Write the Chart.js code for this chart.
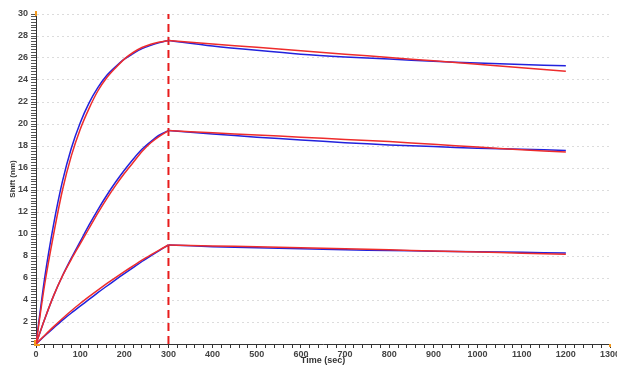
<!DOCTYPE html>
<html>
<head>
<meta charset="utf-8">
<script src="https://cdn.jsdelivr.net/npm/chart.js@4/dist/chart.umd.min.js"></script>
<style>
html, body { margin: 0; padding: 0; background: #fff; overflow: hidden; }
#wrap { width: 617px; height: 366px; overflow: hidden; }
</style>
</head>
<body>
<div id="wrap"><canvas id="chart" width="630" height="366"></canvas></div>
<script>
// time points (sec)
const assocTime = [0, 20, 40, 60, 80, 100, 120, 140, 160, 180, 200, 220, 240, 260, 280, 300]
const dissTime = [300, 400, 500, 600, 700, 800, 900, 1000, 1100, 1200]
const injectionEnd = 300

// measured (blue) and fitted (red) shift, nm
const topBlueAssoc = [0, 6.1, 10.9, 14.8, 17.8, 20.1, 21.9, 23.3, 24.4, 25.2, 25.9, 26.4, 26.85, 27.15, 27.4, 27.6]
const topRedAssoc = [0, 5.5, 10.0, 14.0, 17.1, 19.5, 21.4, 23.0, 24.2, 25.1, 25.9, 26.5, 26.95, 27.25, 27.45, 27.6]
const topBlueDiss = [27.6, 27.1, 26.7, 26.35, 26.1, 25.9, 25.7, 25.55, 25.4, 25.3]
const topRedDiss = [27.6, 27.28, 26.97, 26.66, 26.35, 26.05, 25.74, 25.44, 25.12, 24.8]

const midBlueAssoc = [0, 2.3, 4.4, 6.2, 7.8, 9.3, 10.8, 12.2, 13.5, 14.7, 15.8, 16.8, 17.7, 18.4, 19.0, 19.4]
const midRedAssoc = [0, 2.3, 4.4, 6.2, 7.7, 9.1, 10.5, 11.9, 13.2, 14.4, 15.5, 16.5, 17.5, 18.3, 18.9, 19.4]
const midBlueDiss = [19.4, 19.1, 18.8, 18.55, 18.3, 18.1, 17.95, 17.8, 17.7, 17.6]
const midRedDiss = [19.4, 19.2, 19.0, 18.8, 18.6, 18.4, 18.15, 17.9, 17.65, 17.45]

const lowBlueAssoc = [0, 0.75, 1.47, 2.17, 2.82, 3.44, 4.05, 4.67, 5.25, 5.83, 6.4, 6.95, 7.5, 8.02, 8.52, 9.0]
const lowRedAssoc = [0, 0.8, 1.58, 2.32, 3.02, 3.68, 4.3, 4.9, 5.48, 6.04, 6.58, 7.1, 7.62, 8.1, 8.56, 9.0]
const lowBlueDiss = [9.0, 8.85, 8.75, 8.65, 8.57, 8.5, 8.44, 8.38, 8.33, 8.28]
const lowRedDiss = [9.0, 8.92, 8.83, 8.74, 8.65, 8.56, 8.46, 8.36, 8.26, 8.15]

const blue = '#2222dd'
const red = '#ee2c2c'

function pts(times, vals){
	return times.map((t, i) => ({x: t, y: vals[i]}))
}

function curve(times, vals, color){
	return {
		data: pts(times, vals),
		borderColor: color,
		borderWidth: 1.5,
		pointRadius: 0,
		fill: false,
		tension: 0.3
	}
}

const datasets = [
	curve(assocTime, topRedAssoc, red),
	curve(dissTime, topRedDiss, red),
	curve(assocTime, midRedAssoc, red),
	curve(dissTime, midRedDiss, red),
	curve(assocTime, lowRedAssoc, red),
	curve(dissTime, lowRedDiss, red),
	curve(assocTime, topBlueAssoc, blue),
	curve(dissTime, topBlueDiss, blue),
	curve(assocTime, midBlueAssoc, blue),
	curve(dissTime, midBlueDiss, blue),
	curve(assocTime, lowBlueAssoc, blue),
	curve(dissTime, lowBlueDiss, blue),
	{
		data: [{x: injectionEnd, y: 0}, {x: injectionEnd, y: 30}],
		borderColor: '#e81c1c',
		borderWidth: 2,
		borderDash: [8, 5],
		pointRadius: 0,
		fill: false
	}
]

// little orange corner marks on the axes
const cornerMarks = {
	id: 'cornerMarks',
	afterDraw(chart){
		const ctx = chart.ctx
		const a = chart.chartArea
		ctx.save()
		ctx.strokeStyle = '#f39a1e'
		ctx.lineWidth = 2
		ctx.beginPath()
		ctx.moveTo(a.left - 1, a.bottom - 4)
		ctx.lineTo(a.left - 1, a.bottom + 1)
		ctx.lineTo(a.left + 4, a.bottom + 1)
		ctx.moveTo(a.left, a.top - 3)
		ctx.lineTo(a.left, a.top + 2)
		ctx.moveTo(a.right, a.bottom)
		ctx.lineTo(a.right, a.bottom + 3)
		ctx.stroke()
		ctx.restore()
	}
}

const tickFont = {family: 'Liberation Sans', size: 9, weight: 'bold'}

const config = {
	type: 'line',
	data: {datasets: datasets},
	options: {
		responsive: false,
		animation: false,
		layout: {padding: {left: 0, top: 14, right: 20, bottom: 0}},
		plugins: {
			legend: {display: false},
			tooltip: {enabled: false}
		},
		scales: {
			x: {
				type: 'linear',
				min: 0,
				max: 1300,
				afterFit: s => { s.height = 22 },
				border: {display: true, color: '#333', width: 1},
				grid: {drawOnChartArea: false, tickLength: 4, tickColor: '#333'},
				ticks: {
					stepSize: 20,
					autoSkip: false,
					maxRotation: 0,
					minRotation: 0,
					padding: 1,
					color: '#444',
					font: tickFont,
					callback: v => v % 100 === 0 ? String(v) : ''
				},
				title: {
					display: true,
					text: 'Time (sec)',
					color: '#333',
					font: {family: 'Liberation Sans', size: 9, weight: 'bold'},
					padding: {top: 0, bottom: 0}
				}
			},
			y: {
				min: 0,
				max: 30,
				afterFit: s => { s.width = 36 },
				border: {display: true, color: '#333', width: 1, dash: [2, 3]},
				grid: {
					tickLength: 5,
					tickColor: '#555',
					color: c => (c.tick && c.tick.value > 0 && c.tick.value % 2 === 0) ? '#dcdcdc' : 'rgba(0,0,0,0)'
				},
				ticks: {
					stepSize: 0.25,
					autoSkip: false,
					padding: 3,
					color: '#444',
					font: tickFont,
					callback: v => (v > 0 && v % 2 === 0) ? String(v) : ''
				},
				title: {
					display: true,
					text: 'Shift (nm)',
					color: '#333',
					font: {family: 'Liberation Sans', size: 8, weight: 'bold'},
					padding: {top: 8, bottom: 0}
				}
			}
		}
	},
	plugins: [cornerMarks]
}

const ctx = document.getElementById('chart')
var myChart = new Chart(ctx, config)
</script>
</body>
</html>
